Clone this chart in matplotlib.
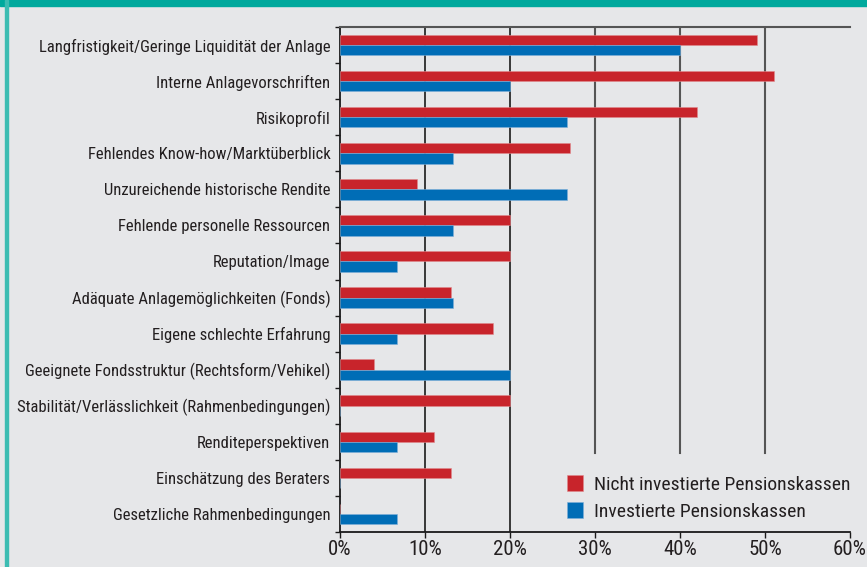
import matplotlib
matplotlib.use("Agg")
import matplotlib.pyplot as plt
from matplotlib import font_manager
import numpy as np

categories = [
    "Langfristigkeit/Geringe Liquidität der Anlage",
    "Interne Anlagevorschriften",
    "Risikoprofil",
    "Fehlendes Know-how/Marktüberblick",
    "Unzureichende historische Rendite",
    "Fehlende personelle Ressourcen",
    "Reputation/Image",
    "Adäquate Anlagemöglichkeiten (Fonds)",
    "Eigene schlechte Erfahrung",
    "Geeignete Fondsstruktur (Rechtsform/Vehikel)",
    "Stabilität/Verlässlichkeit (Rahmenbedingungen)",
    "Renditeperspektiven",
    "Einschätzung des Beraters",
    "Gesetzliche Rahmenbedingungen",
]
nicht_investiert = [49, 51, 42, 27, 9, 20, 20, 13, 18, 4, 20, 11, 13, 0]
investiert = [40, 20, 26.7, 13.3, 26.7, 13.3, 6.7, 13.3, 6.7, 20, 0, 6.7, 0, 6.7]
series_names = ["Nicht investierte Pensionskassen", "Investierte Pensionskassen"]
x_ticks = [0, 10, 20, 30, 40, 50, 60]
x_ticklabels = ["0%", "10%", "20%", "30%", "40%", "50%", "60%"]

avail = {f.name for f in font_manager.fontManager.ttflist}
fam = [f for f in ["Liberation Sans Narrow", "Roboto Condensed", "Open Sans Condensed", "Liberation Sans"] if f in avail]
plt.rcParams["font.family"] = fam + ["DejaVu Sans"]

RED = "#c8242b"
BLUE = "#006db6"
BG = "#e6e7e9"
TEAL = "#00a99d"
TXT = "#231f20"

fig = plt.figure(figsize=(8.67, 5.67), dpi=100, facecolor=BG)
ax = fig.add_axes([340/867, 1-532/567, 510/867, 505/567])
ax.set_facecolor(BG)

y = np.arange(len(categories))
h = 0.285
ax.barh(y - h/2, nicht_investiert, height=h, color=RED, label=series_names[0], zorder=3,
        edgecolor="#e08a8e", linewidth=0.4)
ax.barh(y + h/2, investiert, height=h, color=BLUE, label=series_names[1], zorder=3,
        edgecolor="#7fb0d8", linewidth=0.4)

ax.set_xlim(0, 60)
ax.set_ylim(len(categories) - 0.5, -0.5)

# vertical grid lines
for v in x_ticks[1:-1]:
    if v <= 20:
        ax.axvline(v, color="#1a1a1a", lw=1.2, zorder=2)
    else:
        ax.axvline(v, ymin=0.157, ymax=1, color="#555555", lw=1.5, zorder=2)

ax.set_yticks(y)
ax.set_yticklabels(categories, fontsize=12.0, color=TXT)
ax.set_yticks(np.arange(len(categories) + 1) - 0.5, minor=True)
ax.tick_params(axis="y", which="major", length=0, pad=7)
ax.tick_params(axis="y", which="minor", length=3.5, width=1, color="#1a1a1a", direction="out")

ax.set_xticks(x_ticks)
ax.set_xticklabels(x_ticklabels, fontsize=15, color=TXT)
ax.tick_params(axis="x", length=4, width=1, color="#1a1a1a", pad=2)

for s in ["left", "bottom"]:
    ax.spines[s].set_color("#1a1a1a")
    ax.spines[s].set_linewidth(1.3)
ax.spines["top"].set_color("#555555")
ax.spines["top"].set_linewidth(1.5)
ax.spines["right"].set_visible(False)

leg = ax.legend(loc="lower right", bbox_to_anchor=(1.036, -0.012), frameon=False,
                fontsize=14, handlelength=0.8, handleheight=0.9, handletextpad=0.6,
                labelspacing=0.42, labelcolor=TXT)

# teal header band and left border
fig.patches.append(plt.Rectangle((0, 1-6/567), 1, 6/567, transform=fig.transFigure,
                                 color=TEAL, zorder=0))
fig.patches.append(plt.Rectangle((5/867, 0), 2.5/867, 1, transform=fig.transFigure,
                                 color="#3cbcb2", zorder=0))

fig.savefig("out.png", dpi=100, facecolor=BG)
